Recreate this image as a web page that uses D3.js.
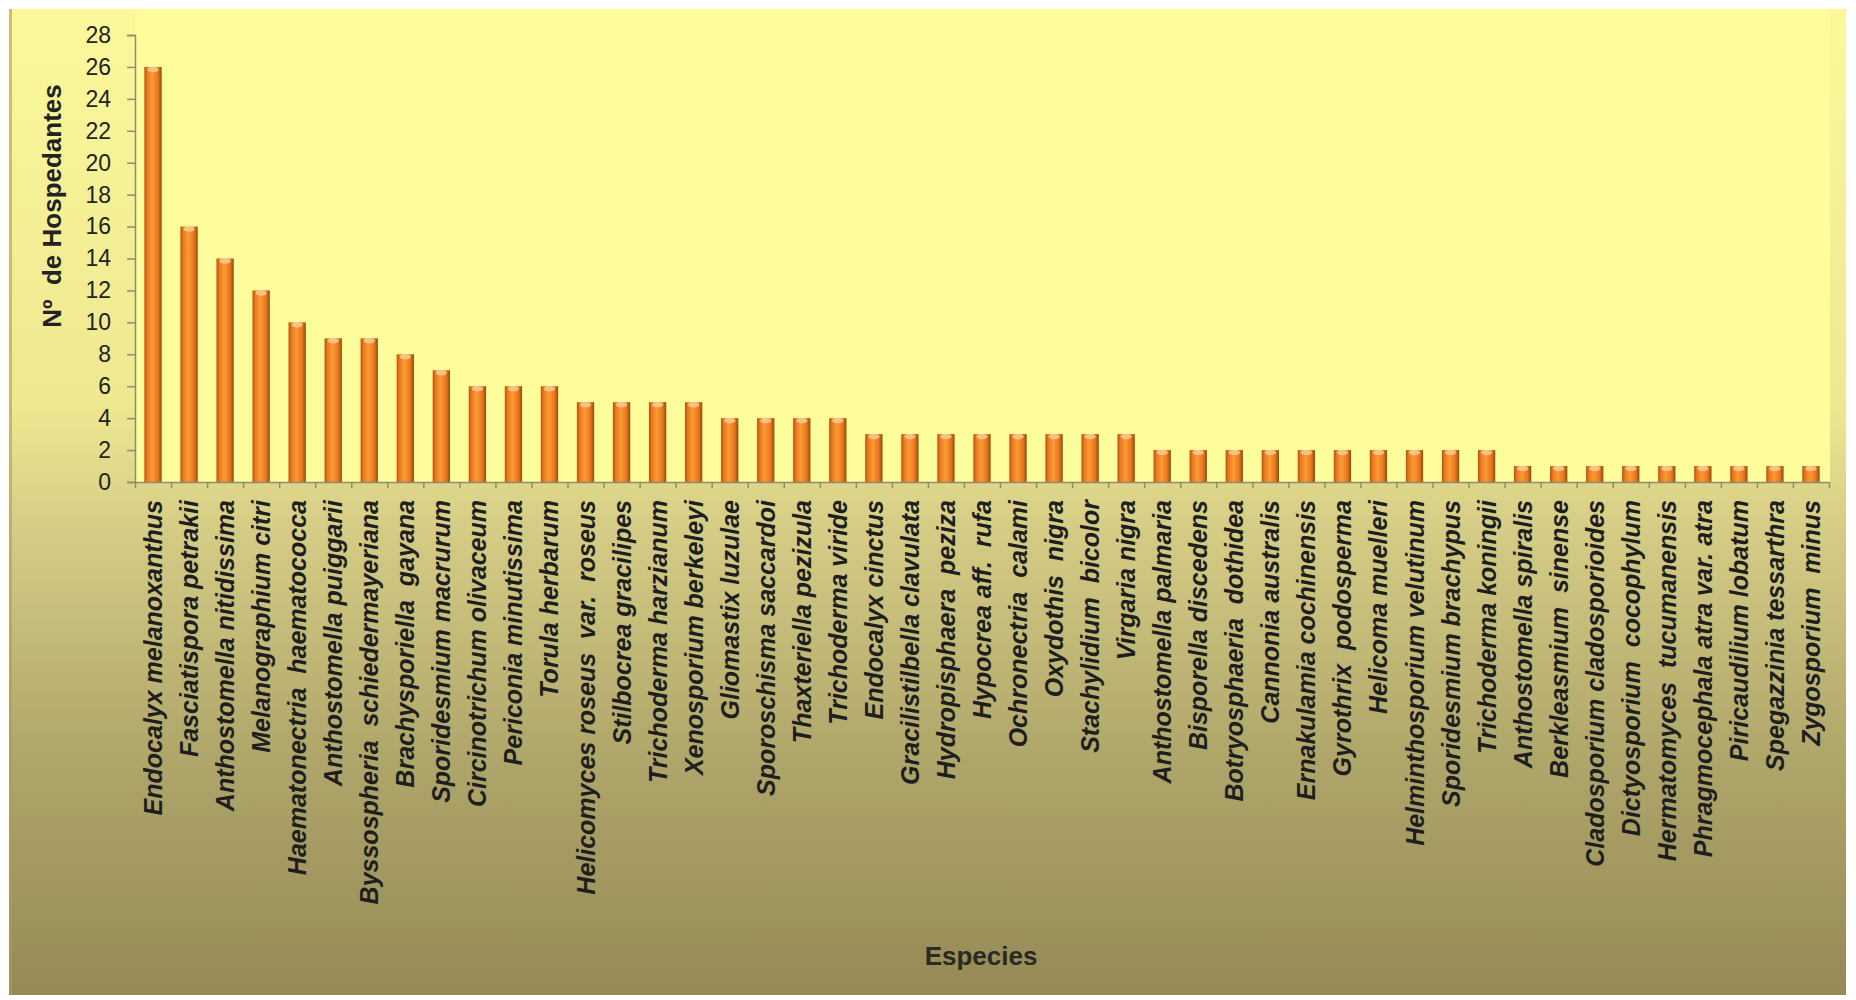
<!DOCTYPE html>
<html>
<head>
<meta charset="utf-8">
<script src="https://cdn.jsdelivr.net/npm/d3@7"></script>
<style>
  body { margin: 0; background: #ffffff; }
  svg { display: block; }
</style>
</head>
<body>
<svg id="chart" width="1856" height="1000"></svg>
<script>
// Species and number of hosts
const species = [
  "Endocalyx melanoxanthus", "Fasciatispora petrakii", "Anthostomella nitidissima",
  "Melanographium citri", "Haematonectria  haematococca", "Anthostomella puiggarii",
  "Byssospheria  schiedermayeriana", "Brachysporiella  gayana", "Sporidesmium macrurum",
  "Circinotrichum olivaceum", "Periconia minutissima", "Torula herbarum",
  "Helicomyces roseus  var.  roseus", "Stilbocrea gracilipes", "Trichoderma harzianum",
  "Xenosporium berkeleyi", "Gliomastix luzulae", "Sporoschisma saccardoi",
  "Thaxteriella pezizula", "Trichoderma viride", "Endocalyx cinctus",
  "Gracilistilbella clavulata", "Hydropisphaera  peziza", "Hypocrea aff.  rufa",
  "Ochronectria  calami", "Oxydothis  nigra", "Stachylidium  bicolor",
  "Virgaria nigra", "Anthostomella palmaria", "Bisporella discedens",
  "Botryosphaeria  dothidea", "Cannonia australis", "Ernakulamia cochinensis",
  "Gyrothrix  podosperma", "Helicoma muelleri", "Helminthosporium velutinum",
  "Sporidesmium brachypus", "Trichoderma koningii", "Anthostomella spiralis",
  "Berkleasmium  sinense", "Cladosporium cladosporioides", "Dictyosporium  cocophylum",
  "Hermatomyces  tucumanensis", "Phragmocephala atra var. atra", "Piricaudilium lobatum",
  "Spegazzinia tessarthra", "Zygosporium  minus"
];
const hosts = [
  26, 16, 14, 12, 10, 9, 9, 8, 7, 6, 6, 6,
  5, 5, 5, 5, 4, 4, 4, 4,
  3, 3, 3, 3, 3, 3, 3, 3,
  2, 2, 2, 2, 2, 2, 2, 2, 2, 2,
  1, 1, 1, 1, 1, 1, 1, 1, 1
];
const yTicks = [0, 2, 4, 6, 8, 10, 12, 14, 16, 18, 20, 22, 24, 26, 28];

const data = species.map((s, i) => ({ name: s, value: hosts[i] }));

const svg = d3.select("#chart");
const plotLeft = 135, plotRight = 1829, plotTop = 35, plotBottom = 482;

const defs = svg.append("defs");
const bg = defs.append("linearGradient")
    .attr("id", "bg")
    .attr("x1", 0).attr("y1", 0).attr("x2", 0).attr("y2", 1);
bg.append("stop").attr("offset", "0%").attr("stop-color", "#fbf89b");
bg.append("stop").attr("offset", "40%").attr("stop-color", "#eee891");
bg.append("stop").attr("offset", "52%").attr("stop-color", "#d6ce86");
bg.append("stop").attr("offset", "75%").attr("stop-color", "#b0a76b");
bg.append("stop").attr("offset", "100%").attr("stop-color", "#958a56");

const barGrad = defs.append("linearGradient")
    .attr("id", "bar")
    .attr("x1", 0).attr("y1", 0).attr("x2", 1).attr("y2", 0);
barGrad.append("stop").attr("offset", "0%").attr("stop-color", "#b0520f");
barGrad.append("stop").attr("offset", "16%").attr("stop-color", "#e7791f");
barGrad.append("stop").attr("offset", "45%").attr("stop-color", "#fc9a35");
barGrad.append("stop").attr("offset", "78%").attr("stop-color", "#e8771c");
barGrad.append("stop").attr("offset", "100%").attr("stop-color", "#98480f");

// chart area + plot area
svg.append("rect")
    .attr("x", 9).attr("y", 9)
    .attr("width", 1837).attr("height", 986)
    .attr("fill", "url(#bg)");
svg.append("rect")
    .attr("x", 9).attr("y", 9)
    .attr("width", 3).attr("height", 986)
    .attr("fill", "#a49c6c")
    .attr("opacity", 0.6);
svg.append("rect")
    .attr("x", plotLeft).attr("y", 10)
    .attr("width", plotRight - plotLeft + 1).attr("height", plotBottom - 10)
    .attr("fill", "#fefd9c");

const x = d3.scaleBand()
    .domain(species)
    .range([plotLeft, plotRight])
    .paddingInner(0.52)
    .paddingOuter(0.26);

const xTickScale = d3.scaleLinear()
    .domain([0, species.length])
    .range([plotLeft, plotRight]);

const y = d3.scaleLinear()
    .domain([0, 28])
    .range([plotBottom, plotTop]);

// bars
const bars = svg.append("g");
bars.selectAll("rect")
  .data(data)
  .join("rect")
    .attr("x", d => x(d.name))
    .attr("y", d => y(d.value))
    .attr("width", x.bandwidth())
    .attr("height", d => y(0) - y(d.value))
    .attr("fill", "url(#bar)");

bars.selectAll("ellipse")
  .data(data)
  .join("ellipse")
    .attr("cx", d => x(d.name) + x.bandwidth() / 2)
    .attr("cy", d => y(d.value) + 2.5)
    .attr("rx", x.bandwidth() / 2 - 3)
    .attr("ry", 2.8)
    .attr("fill", "#fdca90")
    .attr("opacity", 0.85);

// y axis
const yAxis = svg.append("g")
    .attr("transform", `translate(${plotLeft},0)`)
    .call(d3.axisLeft(y).tickValues(yTicks).tickSize(8).tickPadding(16));
yAxis.select(".domain").attr("stroke", "#8e8c70").attr("stroke-width", 1.5);
yAxis.selectAll(".tick line").attr("stroke", "#8e8c70").attr("stroke-width", 1.5);
yAxis.selectAll(".tick text")
    .attr("fill", "#222")
    .style("font-family", "'Liberation Sans', Arial, sans-serif")
    .style("font-size", "23px");

// x axis
const xAxis = svg.append("g")
    .attr("transform", `translate(0,${plotBottom})`)
    .call(d3.axisBottom(xTickScale).ticks(species.length).tickSize(6).tickFormat("").tickSizeOuter(0));
xAxis.select(".domain").attr("stroke", "#8e8c70").attr("stroke-width", 1.5);
xAxis.selectAll(".tick line").attr("stroke", "#8e8c70").attr("stroke-width", 1.5);

svg.append("g")
  .selectAll("text")
  .data(species)
  .join("text")
    .attr("transform", d => `translate(${x(d) + x.bandwidth() / 2},${plotBottom + 18}) rotate(-90)`)
    .attr("dy", "0.36em")
    .attr("text-anchor", "end")
    .attr("fill", "#1e1e1e")
    .style("font-family", "'Liberation Sans', Arial, sans-serif")
    .style("font-size", "25px")
    .style("font-style", "italic")
    .style("font-weight", "bold")
    .style("white-space", "pre")
    .text(d => d);

// axis titles
svg.append("text")
    .attr("transform", `translate(61,${(83 + 329) / 2}) rotate(-90)`)
    .attr("text-anchor", "middle")
    .attr("fill", "#222")
    .style("font-family", "'Liberation Sans', Arial, sans-serif")
    .style("font-size", "26px")
    .style("font-weight", "bold")
    .style("white-space", "pre")
    .text("N\u00BA  de Hospedantes");

svg.append("text")
    .attr("x", 981)
    .attr("y", 965)
    .attr("text-anchor", "middle")
    .attr("fill", "#2a2a22")
    .style("font-family", "'Liberation Sans', Arial, sans-serif")
    .style("font-size", "26px")
    .style("font-weight", "bold")
    .text("Especies");
</script>
</body>
</html>
